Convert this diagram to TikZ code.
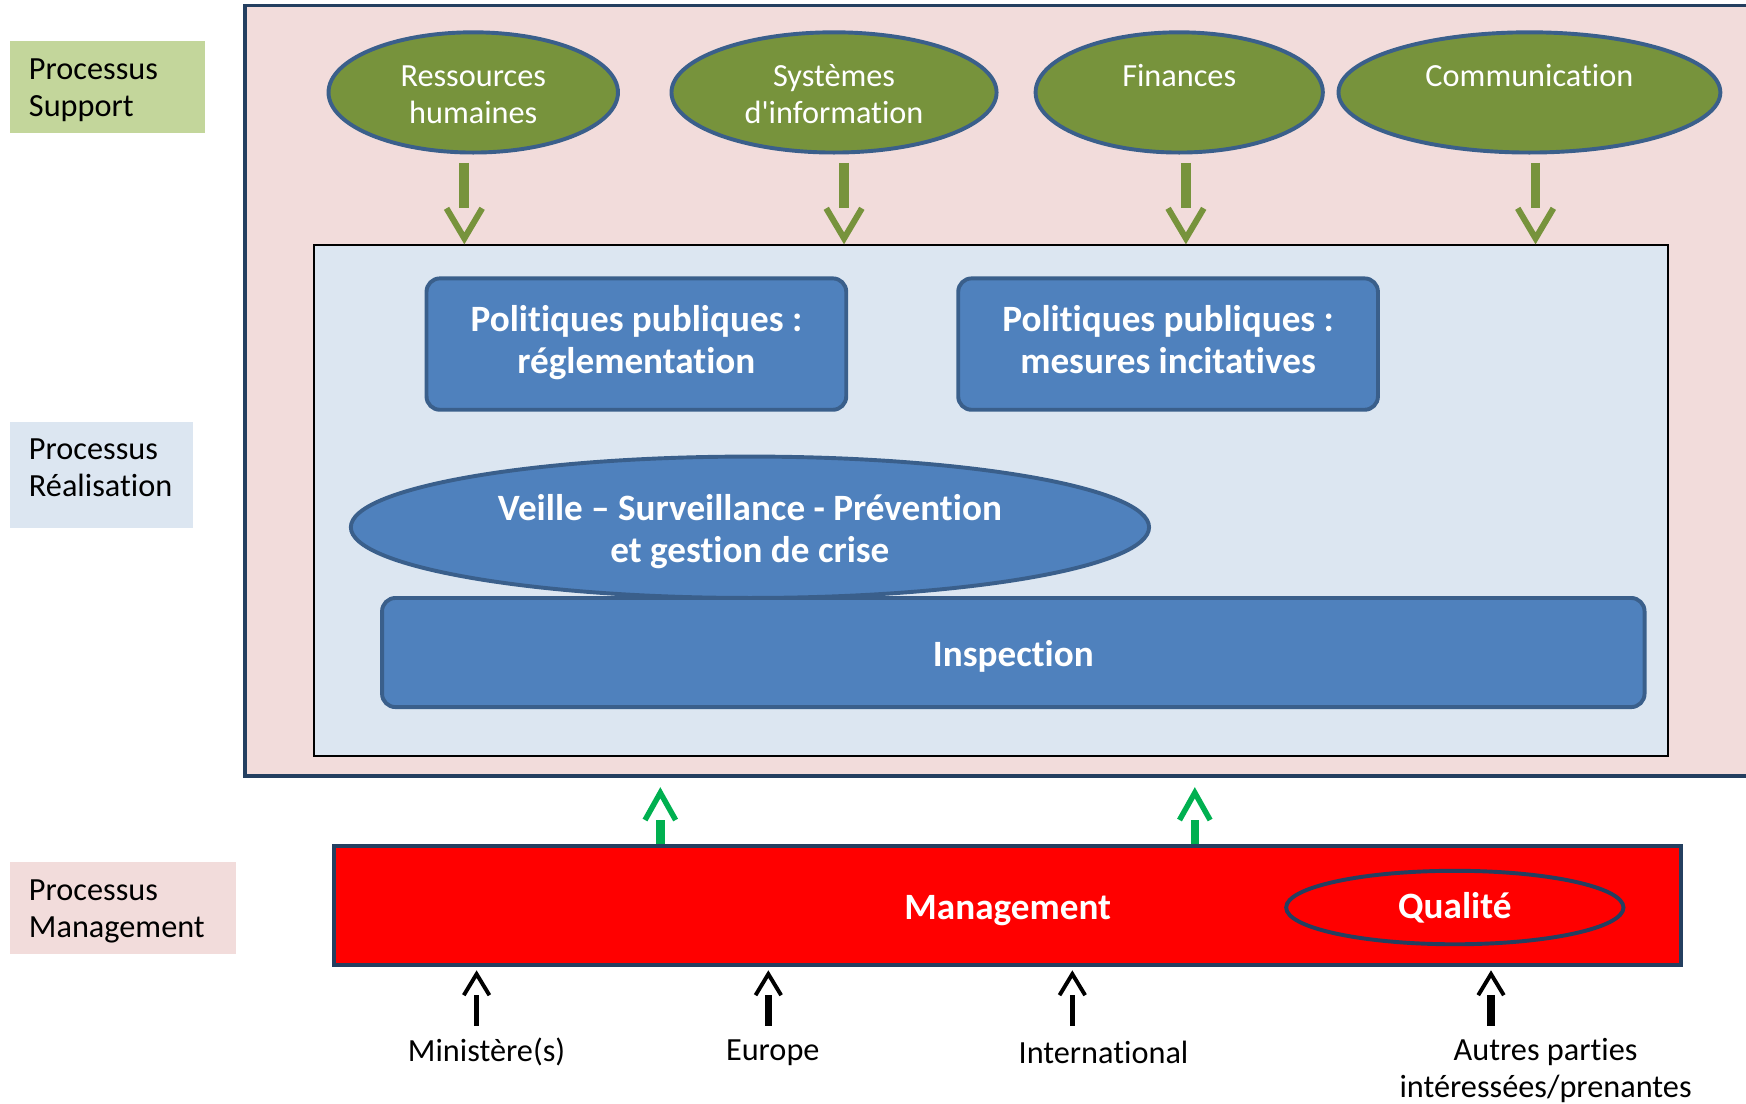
\documentclass[tikz,border=0pt]{standalone}
\usepackage{fontspec}
\setmainfont{Carlito}[Ligatures=CommonOff]
\usepackage{xcolor}
\usetikzlibrary{shapes,arrows.meta,positioning,calc}

\definecolor{pinkbg}{HTML}{F2DCDB}
\definecolor{bluebg}{HTML}{DCE6F1}
\definecolor{greenbg}{HTML}{C3D69B}
\definecolor{navy}{HTML}{243F60}
\definecolor{olive}{HTML}{77933C}
\definecolor{steel}{HTML}{4F81BD}
\definecolor{steeldark}{HTML}{3A5F8B}
\definecolor{flashgreen}{HTML}{00B050}

% invisible line props to place the text inside the shapes
\newcommand\topline[1]{\rule{0pt}{#1}}
\newcommand\lowline[1]{\rule[-#1]{0pt}{0pt}}

% open V head, the shaft stops at its back
\pgfdeclarearrow{
  name = Gap Vee,
  parameters = {\the\pgfarrowlength,\the\pgfarrowwidth,\the\pgfarrowlinewidth},
  setup code = {
    \pgfarrowssettipend{0pt}
    \pgfarrowssetbackend{-\pgfarrowlength}
    \pgfarrowssetlineend{-\pgfarrowlength}
    \pgfarrowssavethe\pgfarrowlength
    \pgfarrowssavethe\pgfarrowwidth
    \pgfarrowssavethe\pgfarrowlinewidth
  },
  drawing code = {
    \pgfsetdash{}{0pt}
    \pgfsetbuttcap
    \pgfsetmiterjoin
    \pgfsetlinewidth{\pgfarrowlinewidth}
    \pgfpathmoveto{\pgfqpoint{-\pgfarrowlength}{.5\pgfarrowwidth}}
    \pgfpathlineto{\pgfqpoint{0pt}{0pt}}
    \pgfpathlineto{\pgfqpoint{-\pgfarrowlength}{-.5\pgfarrowwidth}}
    \pgfusepathqstroke
  },
  defaults = {length=5pt, width=5pt, line width=1pt}
}

\begin{document}
\begin{tikzpicture}[
    x=0.02cm, y=-0.02cm,
    reg/.style={font=\fontsize{16.5}{18.8}\selectfont},
    big/.style={font=\fontsize{19}{21.6}\selectfont\bfseries},
    procbox/.style={rectangle, reg, align=left, inner xsep=0.34cm, inner ysep=0pt},
    support/.style={ellipse, draw=steeldark, line width=2pt, fill=olive, text=white, reg, align=center, minimum height=2.16cm, inner sep=0pt},
    policy/.style={rectangle, rounded corners=0.24cm, draw=steeldark, line width=2pt, fill=steel, text=white, big, align=center},
    downarrow/.style={-{Gap Vee[length=0.54cm, width=0.64cm, line width=3.1pt]}, olive, line width=5pt},
    uparrow/.style={-{Gap Vee[length=0.49cm, width=0.55cm, line width=2.8pt]}, flashgreen, line width=4.3pt},
    extarrow/.style={-{Gap Vee[length=0.38cm, width=0.46cm, line width=2pt]}, black}
]
    \useasboundingbox (0,0) rectangle (1568,991);

    % zones
    \node[draw=navy, line width=1.7pt, fill=pinkbg, minimum width=27.2cm, minimum height=13.84cm, inner sep=0pt] (zone) at (900,351) {};
    \node[draw=black, line width=1.1pt, fill=bluebg, minimum width=24.32cm, minimum height=9.18cm, inner sep=0pt] (realisation) at (890,449.5) {};

    % left tags
    \node[procbox, fill=greenbg, text width=2.82cm, minimum height=1.64cm] (tsupport) at (96.5,78) {\topline{0.6cm}Processus\\Support\strut};
    \node[procbox, fill=bluebg, text width=2.6cm, minimum height=1.9cm] (trealisation) at (91,426.5) {Processus\strut\\Réalisation\lowline{0.36cm}};
    \node[procbox, fill=pinkbg, text width=3.38cm, minimum height=1.66cm] (tmanagement) at (110.5,815.5) {\topline{0.58cm}Processus\\Management\strut};

    % support processes
    \node[support, minimum width=5.2cm] (rh) at (425,83) {\topline{0.66cm}Ressources\\humaines\strut};
    \node[support, minimum width=5.84cm] (si) at (749,83) {\topline{0.66cm}Systèmes\\d\textquotesingle{}information\strut};
    \node[support, minimum width=5.16cm] (fin) at (1059,83) {\topline{0.66cm}Finances\\\strut};
    \node[support, minimum width=6.86cm] (com) at (1373.5,83) {\topline{0.66cm}Communication\\\strut};

    % realisation processes
    \node[policy, minimum width=7.54cm, minimum height=2.36cm] (regl) at (571.5,309) {Politiques publiques :\strut\\réglementation\strut};
    \node[policy, minimum width=7.54cm, minimum height=2.36cm] (incit) at (1049,309) {Politiques publiques :\strut\\mesures incitatives\strut};
    \node[ellipse, draw=steeldark, line width=2pt, fill=steel, text=white, big, align=center, minimum width=14.34cm, minimum height=2.54cm, inner sep=0pt] (veille) at (673.5,473.5) {\topline{0.75cm}Veille – Surveillance - Prévention\\et gestion de crise\strut};
    \node[policy, minimum width=22.68cm, minimum height=1.96cm, text height=0.62cm, text depth=0.12cm] (insp) at (910,586) {Inspection};

    % management
    \node[draw=navy, line width=2pt, fill=red, text=white, big, minimum width=24.2cm, minimum height=2.14cm, text height=0.62cm, text depth=0.12cm] (mgmt) at (905,813.5) {Management};
    \node[ellipse, draw=navy, line width=2pt, fill=red, text=white, big, minimum width=6.06cm, minimum height=1.32cm, inner sep=0pt] (qual) at (1306.5,815) {Qualité};

    % stakeholders
    \node[reg] (mini) at (437,945) {Ministère(s)};
    \node[reg] (europe) at (694,945) {Europe};
    \node[reg] (inter) at (991,945) {International};
    \node[reg, align=center] (autres) at (1388,961) {Autres parties\\intéressées/prenantes};

    % arrows
    \foreach \x/\n in {417/rh, 758/si, 1065/fin, 1379/com}{
        \coordinate (d\n) at (\x,0);
        \draw[downarrow, shorten <=0.15cm, shorten >=0.1cm] (\n.south -| d\n) -- (realisation.north -| d\n);
    }
    \foreach \x/\n in {593/a, 1073/b}{
        \coordinate (u\n) at (\x,0);
        \draw[uparrow, shorten >=0.27cm] (mgmt.north -| u\n) -- (zone.south -| u\n);
    }
    \foreach \x/\n/\w in {428/mini/2.8pt, 690/europe/3.6pt, 963/inter/2.8pt, 1339/autres/3.8pt}{
        \coordinate (e\n) at (\x,921);
        \draw[extarrow, line width=\w, shorten >=0.12cm] (e\n) -- (e\n |- mgmt.south);
    }
\end{tikzpicture}
\end{document}
